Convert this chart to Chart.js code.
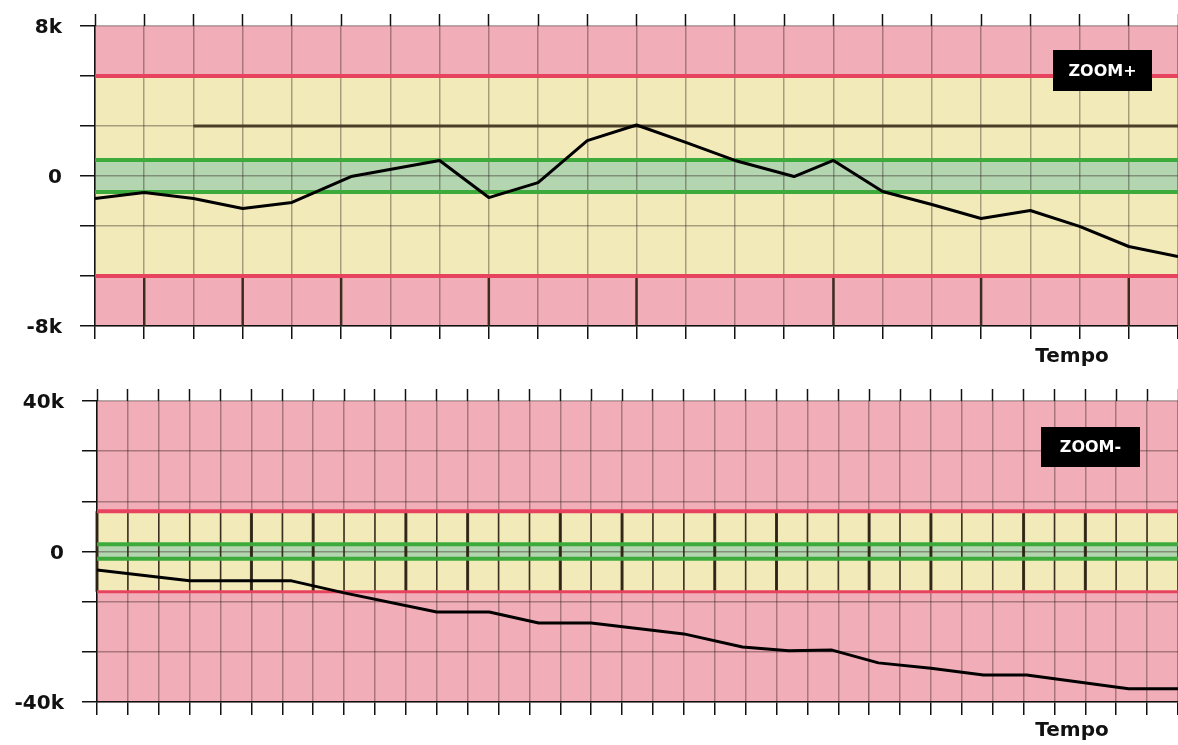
<!DOCTYPE html>
<html>
<head>
<meta charset="utf-8">
<script src="https://cdn.jsdelivr.net/npm/chart.js@4.4.1/dist/chart.umd.min.js"></script>
<style>
  html, body { margin: 0; padding: 0; background: #fff; }
  .wrap { position: relative; width: 1178px; }
  #top-wrap { height: 372px; }
  #bottom-wrap { height: 373px; }
</style>
</head>
<body>
<div class="wrap" id="top-wrap"><canvas id="topChart"></canvas></div>
<div class="wrap" id="bottom-wrap"><canvas id="bottomChart"></canvas></div>
<script>
// ZOOM+ panel
const topTime = [0, 1, 2, 3, 4, 5.2, 7, 8, 9, 10, 11, 12, 13, 14.2, 15, 16, 17, 18, 19, 20, 21, 22];
const topValues = [-1200, -880, -1200, -1730, -1410, -30, 830, -1150, -350, 1890, 2720, 1790, 830, -30, 830, -830, -1520, -2270, -1840, -2690, -3760, -4290];
const topTickValues = [-8000, -5333, -2667, 0, 2667, 5333, 8000];
const topTickLabels = ['-8k', '', '', '0', '', '', '8k'];
const topRedLimits = [-5333, 5333];
const topGreenLimits = [-850, 850];
const topTargetValue = 2667;
const topTargetSpan = [2, 22];
const topStrongLines = [1, 3, 5, 8, 11, 15, 18, 21];

// ZOOM- panel
const bottomTime = [0, 3, 6.3, 8, 11, 12.7, 14.3, 16, 19, 20.9, 22.4, 23.8, 25.3, 27, 28.7, 30.1, 33.4, 35];
const bottomValues = [-4900, -7800, -7800, -11000, -16100, -16100, -19000, -19000, -21900, -25400, -26400, -26200, -29600, -31000, -32800, -32800, -36500, -36500];
const bottomTickValues = [-40000, -26667, -13333, 0, 13333, 26667, 40000];
const bottomTickLabels = ['-40k', '', '', '0', '', '', '40k'];
const bottomRedLimits = [-10700, 10700];
const bottomGreenLimits = [-1900, 1900];
const bottomStrongLines = [0, 5, 7, 10, 12, 15, 17, 20, 22, 25, 27, 30, 32];

const PINK = '#f2aeb8';
const YELLOW = '#f3eaba';
const GREEN_FILL = '#b3d5b0';
const RED_LINE = '#e8435e';
const GREEN_LINE = '#3dab3b';
const GRID = 'rgba(45,30,30,0.38)';
const INK = '#111';
const FONT = "'DejaVu Sans', sans-serif";

const bandsPlugin = {
  id: 'bands',
  beforeDraw(chart, args, opts) {
    const { ctx, chartArea: a, scales: { y } } = chart;
    const yp = v => y.getPixelForValue(v);
    ctx.save();
    ctx.fillStyle = PINK;
    ctx.fillRect(a.left, a.top, a.width, a.height);
    ctx.fillStyle = YELLOW;
    ctx.fillRect(a.left, yp(opts.red[1]), a.width, yp(opts.red[0]) - yp(opts.red[1]));
    ctx.fillStyle = GREEN_FILL;
    ctx.fillRect(a.left, yp(opts.green[1]), a.width, yp(opts.green[0]) - yp(opts.green[1]));
    ctx.restore();
  },
  beforeDatasetsDraw(chart, args, opts) {
    const { ctx, chartArea: a, scales: { x, y } } = chart;
    const yp = v => y.getPixelForValue(v);
    ctx.save();
    // darker verticals inside one band
    const s = opts.strong;
    const y1 = yp(s.from), y2 = yp(s.to);
    ctx.strokeStyle = 'rgba(45,36,20,0.9)';
    if (s.all) {
      ctx.lineWidth = 1.5;
      x.ticks.forEach(t => {
        const px = x.getPixelForValue(t.value);
        ctx.beginPath(); ctx.moveTo(px, y1); ctx.lineTo(px, y2); ctx.stroke();
      });
    }
    ctx.lineWidth = s.width;
    s.at.forEach(v => {
      const px = x.getPixelForValue(v);
      ctx.beginPath(); ctx.moveTo(px, y1); ctx.lineTo(px, y2); ctx.stroke();
    });
    // limit lines
    const hline = (v, color, w) => {
      ctx.strokeStyle = color; ctx.lineWidth = w;
      ctx.beginPath(); ctx.moveTo(a.left, yp(v)); ctx.lineTo(a.right, yp(v)); ctx.stroke();
    };
    hline(opts.red[1], RED_LINE, opts.redWidth[1]);
    hline(opts.red[0], RED_LINE, opts.redWidth[0]);
    opts.green.forEach(v => hline(v, GREEN_LINE, 4));
    ctx.restore();
  },
  afterDraw(chart, args, opts) {
    const { ctx, chartArea: a } = chart;
    ctx.save();
    ctx.fillStyle = INK;
    ctx.font = 'bold 20px ' + FONT;
    ctx.textAlign = 'center';
    ctx.textBaseline = 'middle';
    ctx.fillText('Tempo', a.right - 106, a.bottom + opts.titleGap);
    const b = opts.box;
    ctx.fillStyle = '#000';
    ctx.fillRect(a.right - b.right - b.width, a.top + b.top, b.width, b.height);
    ctx.fillStyle = '#fff';
    ctx.font = 'bold 16px ' + FONT;
    ctx.fillText(b.text, a.right - b.right - b.width / 2, a.top + b.top + b.height / 2 + 1);
    ctx.restore();
  }
};

function makeChart(id, cfg) {
  const datasets = [{
    data: cfg.time.map((t, i) => ({ x: t, y: cfg.values[i] })),
    borderColor: '#000',
    borderWidth: 3,
    pointRadius: 0,
    tension: 0,
    borderJoinStyle: 'round'
  }];
  if (cfg.target !== undefined) {
    datasets.push({
      data: cfg.targetSpan.map(t => ({ x: t, y: cfg.target })),
      borderColor: '#4a3f28',
      borderWidth: 3,
      pointRadius: 0
    });
  }
  return new Chart(document.getElementById(id), {
    type: 'line',
    data: { datasets },
    plugins: [bandsPlugin],
    options: {
      responsive: true,
      maintainAspectRatio: false,
      animation: false,
      events: [],
      layout: { padding: 0 },
      plugins: {
        legend: { display: false },
        tooltip: { enabled: false },
        bands: {
          red: cfg.red,
          redWidth: cfg.redWidth,
          green: cfg.green,
          strong: cfg.strong,
          titleGap: cfg.titleGap,
          box: cfg.box
        }
      },
      scales: {
        x: {
          type: 'linear',
          position: 'bottom',
          min: 0,
          max: cfg.xMax,
          ticks: { display: false, stepSize: 1 },
          grid: { color: GRID, lineWidth: 1.5, tickLength: 13, tickColor: INK, tickWidth: 1.5 },
          border: { display: true, color: INK, width: 1.5 },
          afterFit: s => { s.height = cfg.bottomH; }
        },
        x2: {
          type: 'linear',
          position: 'top',
          min: 0,
          max: cfg.xMax,
          ticks: { display: false, stepSize: 1 },
          grid: { drawOnChartArea: false, tickLength: 12, tickColor: INK, tickWidth: 1.5 },
          border: { display: false },
          afterFit: s => { s.height = cfg.topH; }
        },
        y: {
          type: 'linear',
          min: cfg.yTicks[0],
          max: cfg.yTicks[cfg.yTicks.length - 1],
          afterBuildTicks: s => { s.ticks = cfg.yTicks.map(v => ({ value: v })); },
          ticks: {
            padding: 18,
            labelOffset: 2,
            color: INK,
            font: { family: FONT, size: 20, weight: 'bold' },
            callback: (v, i) => cfg.yLabels[i]
          },
          grid: { color: GRID, lineWidth: 1.5, tickLength: 15, tickColor: INK, tickWidth: 1.5 },
          border: { display: true, color: INK, width: 1.5 },
          afterFit: s => {
            s.width = cfg.leftW;
            s.paddingTop = 0;
            s.paddingBottom = 0;
          }
        }
      }
    }
  });
}

makeChart('topChart', {
  time: topTime,
  values: topValues,
  yTicks: topTickValues,
  yLabels: topTickLabels,
  red: topRedLimits,
  redWidth: [4, 4],
  green: topGreenLimits,
  target: topTargetValue,
  targetSpan: topTargetSpan,
  strong: { from: -5333, to: -8000, at: topStrongLines, width: 2.5, all: false },
  xMax: 22,
  leftW: 95,
  topH: 26,
  bottomH: 46,
  titleGap: 31,
  box: { text: 'ZOOM+', right: 26, top: 24, width: 99, height: 41 }
});

makeChart('bottomChart', {
  time: bottomTime,
  values: bottomValues,
  yTicks: bottomTickValues,
  yLabels: bottomTickLabels,
  red: bottomRedLimits,
  redWidth: [3, 4],
  green: bottomGreenLimits,
  strong: { from: 10700, to: -10700, at: bottomStrongLines, width: 3, all: true },
  xMax: 35,
  leftW: 97,
  topH: 29,
  bottomH: 43,
  titleGap: 29,
  box: { text: 'ZOOM-', right: 38, top: 26, width: 99, height: 40 }
});
</script>
</body>
</html>
